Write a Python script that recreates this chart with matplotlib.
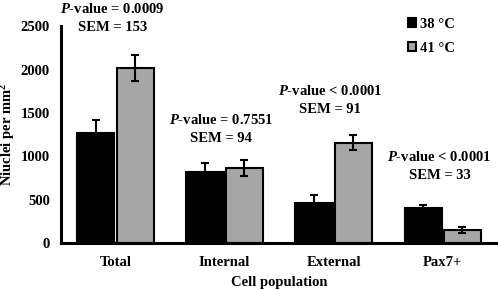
import matplotlib
matplotlib.use("Agg")
import matplotlib.pyplot as plt
import numpy as np

categories = ["Total", "Internal", "External", "Pax7+"]
temp_38 = [1270, 825, 465, 405]
temp_41 = [2020, 865, 1160, 150]
sem = [153, 94, 91, 33]
series_labels = ["38 °C", "41 °C"]
annotations = ["$P$-value = 0.0009\nSEM = 153",
               "$P$-value = 0.7551\nSEM = 94",
               "$P$-value < 0.0001\nSEM = 91",
               "$P$-value < 0.0001\nSEM = 33"]
annot_y = [2590, 1310, 1650, 885]
yticks = [0, 500, 1000, 1500, 2000, 2500]

plt.rcParams['font.family'] = ['Liberation Serif', 'DejaVu Serif']
plt.rcParams['font.weight'] = 'bold'
plt.rcParams['mathtext.fontset'] = 'custom'
plt.rcParams['mathtext.it'] = 'Liberation Serif:italic:bold'
plt.rcParams['mathtext.rm'] = 'Liberation Serif:bold'

fig = plt.figure(figsize=(4.98, 2.90), dpi=100)
ax = fig.add_axes([0.1225, 0.161, 0.876, 0.749])

x = np.arange(len(categories))
w = 0.34
err_kw = dict(ecolor='black', elinewidth=1.5, capsize=3, capthick=1.5)
ax.bar(x - w/2 - 0.01, temp_38, w, color='black', edgecolor='black', linewidth=1.5,
       yerr=sem, error_kw=err_kw, label=series_labels[0])
ax.bar(x + w/2 + 0.01, temp_41, w, color='#a6a6a6', edgecolor='black', linewidth=1.5,
       yerr=sem, error_kw=err_kw, label=series_labels[1])

ax.set_xlim(-0.5, 3.5)
ax.set_ylim(0, 2500)
ax.set_yticks(yticks)
ax.set_xticks(x)
ax.set_xticklabels(categories, fontsize=10.5, fontweight='bold')
ax.tick_params(axis='y', labelsize=10.5, length=0, pad=8)
ax.tick_params(axis='x', length=0, pad=9)
for s in ['top', 'right']:
    ax.spines[s].set_visible(False)
for s in ['left', 'bottom']:
    ax.spines[s].set_linewidth(2.2)

ax.set_ylabel("Niuclei per mm$^2$", fontsize=10.5, fontweight='bold')
ax.yaxis.set_label_coords(-0.1, 0.5)
ax.set_xlabel("Cell population", fontsize=10.5, fontweight='bold', labelpad=5)

for xi, txt, yy in zip(x, annotations, annot_y):
    ax.text(xi - 0.03, yy, txt, ha='center', va='center', fontsize=10.5,
            fontweight='bold', linespacing=1.5, clip_on=False)

leg = ax.legend(loc='upper left', bbox_to_anchor=(408/498, 1 - 18/290),
                bbox_transform=fig.transFigure, frameon=False, borderpad=0,
                borderaxespad=0, fontsize=10.5, handlelength=0.55, handleheight=0.55,
                handletextpad=0.25, labelspacing=0.75)

fig.savefig("out.png", dpi=100)
